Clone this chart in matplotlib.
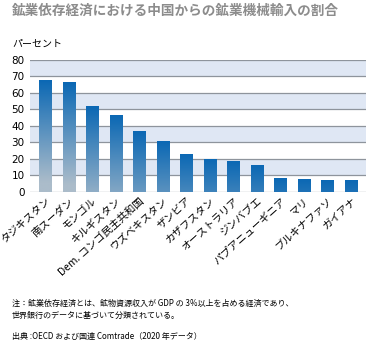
import matplotlib
matplotlib.use("Agg")
import matplotlib.pyplot as plt
import numpy as np

plt.rcParams['font.family'] = ['Noto Sans CJK JP', 'DejaVu Sans']

# 国別の割合（%）
paises = ['タジキスタン', '南スーダン', 'モンゴル', 'キルギスタン', 'Dem. コンゴ民主共和国',
          'ウズベキスタン', 'ザンビア', 'カザフスタン', 'オーストラリア', 'ジンバブエ',
          'パプアニューギニア', 'マリ', 'ブルキナファソ', 'ガイアナ']
valores = [67.8, 66.4, 51.6, 46.4, 36.5, 30.8, 22.9, 19.8, 18.4, 16.2, 8.3, 7.5, 6.7, 6.7]
yticks = [0, 10, 20, 30, 40, 50, 60, 70, 80]

titulo = '鉱業依存経済における中国からの鉱業機械輸入の割合'
unidade = 'パーセント'
nota = ('注：鉱業依存経済とは、鉱物資源収入が GDP の 3%以上を占める経済であり、\n'
        '世界銀行のデータに基づいて分類されている。')
fonte = '出典 :OECD および国連 Comtrade（2020 年データ）'

fig = plt.figure(figsize=(3.66, 3.44), dpi=100)
ax = fig.add_axes([0.082, 0.442, 0.918, 0.384])

# faixas alternadas de fundo
for y0 in range(10, 80, 20):
    ax.axhspan(y0, y0 + 10, color='#dfe7f4', zorder=0, lw=0)
for y in yticks:
    ax.axhline(y, color='#8e949c', lw=0.9, zorder=1)

# barras com degradê (azul escuro no topo, cinza-azulado embaixo)
escuro = np.array([0x0b, 0x68, 0xb4]) / 255
claro = np.array([0xab, 0xbc, 0xca]) / 255
largura = 0.53
for i, v in enumerate(valores):
    prof = np.linspace(0, v, 200)[:, None]
    t = np.clip(prof / 62.0, 0, 1)
    img = escuro * (1 - t[..., None]) + claro * t[..., None]
    ax.imshow(img, extent=[i - largura / 2, i + largura / 2, 0, v],
              origin='upper', aspect='auto', zorder=2, interpolation='bilinear')

ax.set_xlim(-0.66, len(valores) - 1 + 0.64)
ax.set_ylim(0, 80)
ax.set_yticks(yticks)
ax.set_yticklabels([str(t) for t in yticks], fontsize=7.5, family='DejaVu Sans')
ax.set_xticks(range(len(paises)))
ax.set_xticklabels(paises, rotation=42, ha='right', rotation_mode='anchor', fontsize=7.5)
ax.tick_params(length=0, pad=4)
ax.tick_params(axis='x', pad=3)
for s in ax.spines.values():
    s.set_visible(False)

fig.text(0.033, 0.970, titulo, fontsize=9.8, fontweight='bold', color='#8c8c8c', va='center')
fig.text(0.033, 0.872, unidade, fontsize=7.2, va='center')
fig.text(0.033, 0.1, nota, fontsize=5.8, va='center', linespacing=1.5)
fig.text(0.033, 0.022, fonte, fontsize=5.8, va='center')

fig.savefig('out.png', dpi=100)
